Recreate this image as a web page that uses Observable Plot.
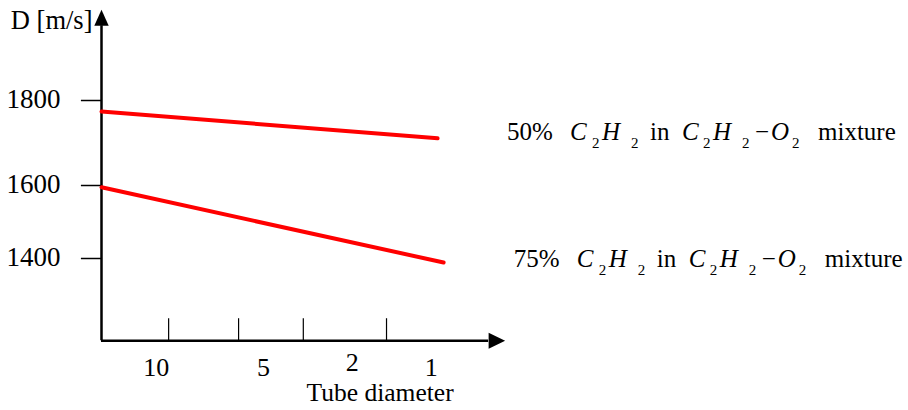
<!DOCTYPE html>
<html><head><meta charset="utf-8">
<script src="https://cdn.jsdelivr.net/npm/d3@7"></script>
<script src="https://cdn.jsdelivr.net/npm/@observablehq/plot@0.6"></script>
<style>body{margin:0;background:#fff} svg{display:block}</style>
</head><body><div id="chart"></div>
<script>
// ---- data ----
const yTicks = [1400, 1600, 1800];
const xTickMarks = [16.7, 34.1, 50.2, 70.9];
const xLabels = ["10", "5", "2", "1"];
const xLabelPos = [13.6, 40.3, 62.4, 82.0];
const seriesPct = ["50%", "75%"];
const x50 = [0, 83.6];
const y50 = [1774, 1711];
const x75 = [0, 85.1];
const y75 = [1595, 1389];
const labelX = [101, 102.7];
const labelY = [1706, 1375];
const yAxisLabel = "D [m/s]";
const xAxisLabel = "Tube diameter";
const X_MIN = 0, X_END = 96.3, Y_BASE = 1175, Y_TOP = 1976;

const FONT = "Liberation Serif, Times New Roman, serif";
const FS = 25;

// the drawn value axis is not evenly spaced: piecewise mapping of values
const yT = d3.scaleLinear().domain([1400, 1600, 1800]).range([0, 73, 158]);

const arrowUp = {draw(ctx, size) { const r = Math.sqrt(size / Math.PI);
  ctx.moveTo(0, -1.6 * r); ctx.lineTo(0.72 * r, 0); ctx.lineTo(-0.72 * r, 0); ctx.closePath(); }};
const arrowRight = {draw(ctx, size) { const r = Math.sqrt(size / Math.PI);
  ctx.moveTo(1.65 * r, 0); ctx.lineTo(0, -0.8 * r); ctx.lineTo(0, 0.8 * r); ctx.closePath(); }};

// legend label tokens: [text, italic, subscript, offset]
const formula = [
  ["C", 1, 0, 63], ["2", 0, 1, 85], ["H", 1, 0, 95], ["2", 0, 1, 124],
  ["in", 0, 0, 143],
  ["C", 1, 0, 175], ["2", 0, 1, 196], ["H", 1, 0, 206], ["2", 0, 1, 235],
  ["\u2212", 0, 0, 248], ["O", 1, 0, 264], ["2", 0, 1, 285],
  ["mixture", 0, 0, 311]
];

function legendMark(index, scales) {
  const g = d3.create("svg:g").attr("font-family", FONT).attr("font-size", FS)
    .attr("fill", "black").attr("text-anchor", "start");
  seriesPct.forEach((pct, i) => {
    const x0 = scales.x(labelX[i]), y0 = scales.y(yT(labelY[i]));
    const t = g.append("text").attr("x", x0).attr("y", y0).attr("text-anchor", "start");
    t.append("tspan").attr("x", x0).attr("y", y0).text(pct);
    for (const [s, it, sub, off] of formula) {
      const ts = t.append("tspan").attr("x", x0 + off).attr("y", sub ? y0 + 8 : y0).text(s);
      if (it) ts.attr("font-style", "italic");
      if (sub) ts.attr("font-size", 15);
    }
  });
  return g.node();
}

const pts = (xs, ys) => xs.map((x, i) => ({x, y: ys[i]}));
const txt = {fontFamily: FONT, fontSize: FS, fill: "black"};

const chart = Plot.plot({
  width: 908, height: 410, margin: 0,
  x: {type: "linear", domain: [0, 100], range: [101, 503], axis: null},
  y: {type: "linear", transform: yT, domain: [0, 158], range: [258, 100], axis: null},
  style: {background: "white", fontFamily: FONT},
  marks: [
    Plot.ruleX([X_MIN], {x: d => d, y1: Y_BASE, y2: Y_TOP, stroke: "black", strokeWidth: 2.5}),
    Plot.ruleY([Y_BASE], {y: d => d, x1: X_MIN, x2: X_END, stroke: "black", strokeWidth: 2.5}),
    Plot.ruleY(yTicks, {y: d => d, x1: -5, x2: 0, stroke: "black", strokeWidth: 1.5}),
    Plot.ruleX(xTickMarks, {x: d => d, y1: Y_BASE, y2: 1235, stroke: "black", strokeWidth: 1.2}),
    Plot.dot([{x: X_MIN, y: Y_TOP}], {x: "x", y: "y", symbol: arrowUp, r: 10, fill: "black"}),
    Plot.dot([{x: X_END, y: Y_BASE}], {x: "x", y: "y", symbol: arrowRight, r: 10, fill: "black"}),
    Plot.line(pts(x50, y50), {x: "x", y: "y", stroke: "#ff0000", strokeWidth: 4}),
    Plot.line(pts(x75, y75), {x: "x", y: "y", stroke: "#ff0000", strokeWidth: 4}),
    Plot.text(yTicks, {...txt, fontSize: 27, x: () => 0, y: d => d, text: d => String(d), textAnchor: "end", dx: -41, dy: -1}),
    Plot.text(xLabels, {...txt, fontSize: 26, x: (d, i) => xLabelPos[i], y: () => Y_BASE, text: d => d,
      filter: d => d !== "2", lineAnchor: "bottom", dy: 35}),
    Plot.text(xLabels, {...txt, fontSize: 26, x: (d, i) => xLabelPos[i], y: () => Y_BASE, text: d => d,
      filter: d => d === "2", lineAnchor: "bottom", dy: 30}),
    Plot.text([xAxisLabel], {...txt, fontSize: 25.5, x: () => 69.3, y: () => Y_BASE, text: d => d, lineAnchor: "bottom", dy: 60}),
    Plot.text([yAxisLabel], {...txt, fontSize: 26.5, x: () => 0, y: () => Y_TOP, text: d => d, textAnchor: "end", lineAnchor: "bottom", dx: -9, dy: 3}),
    legendMark
  ]
});
document.getElementById("chart").append(chart);
</script>
</body></html>
